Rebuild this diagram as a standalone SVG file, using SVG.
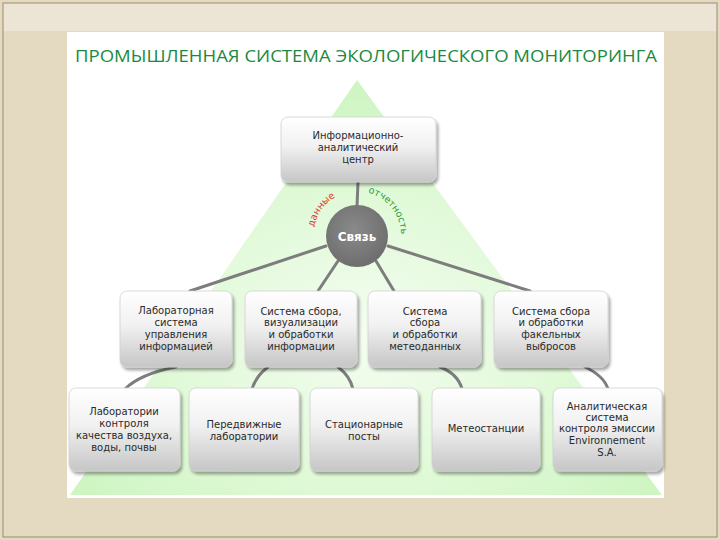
<svg xmlns="http://www.w3.org/2000/svg" width="720" height="540" viewBox="0 0 720 540">
<defs>
<linearGradient id="boxg" x1="0" y1="0" x2="0" y2="1">
<stop offset="0" stop-color="#ffffff"/>
<stop offset="0.45" stop-color="#f1f1f1"/>
<stop offset="1" stop-color="#c6c6c6"/>
</linearGradient>
<radialGradient id="trig" cx="0.5" cy="0.62" r="0.6">
<stop offset="0" stop-color="#f4fdf1"/>
<stop offset="0.6" stop-color="#dff9d6"/>
<stop offset="1" stop-color="#cff5c3"/>
</radialGradient>
<radialGradient id="circg" cx="0.45" cy="0.4" r="0.6">
<stop offset="0" stop-color="#8a8a8a"/>
<stop offset="1" stop-color="#6e6e6e"/>
</radialGradient>
<filter id="sh" x="-10%" y="-10%" width="125%" height="130%">
<feGaussianBlur in="SourceAlpha" stdDeviation="1.8"/>
<feOffset dx="2" dy="3" result="o"/>
<feComponentTransfer><feFuncA type="linear" slope="0.35"/></feComponentTransfer>
<feMerge><feMergeNode/><feMergeNode in="SourceGraphic"/></feMerge>
</filter>
<path id="arc" d="M313.2,232.2 A44,44 0 1 1 400.3,243.6" fill="none"/>
</defs>
<style>
.box{fill:url(#boxg);stroke:#d0d0d0;stroke-width:0.8;filter:url(#sh)}
.t{font-family:"DejaVu Sans","Liberation Sans",sans-serif;font-size:10px;fill:#2a2a2a;text-anchor:middle}
.ln{fill:none;stroke:#7d7d7d;stroke-width:3;stroke-linecap:round}
.arct{font-family:"DejaVu Sans","Liberation Sans",sans-serif;font-size:9.5px}
</style>
<!-- background -->
<rect x="0" y="0" width="720" height="540" fill="#e4d9c1"/>
<rect x="3" y="3" width="714" height="28" fill="#ece5d5"/>
<rect x="3" y="3" width="714" height="534" fill="none" stroke="#9a8c6c" stroke-width="1"/>
<rect x="67" y="32" width="597" height="466" fill="#ffffff"/>
<polygon points="357,80 662,495 70,495" fill="url(#trig)"/>
<text x="366" y="62" font-family="'Open Sans','Liberation Sans',sans-serif" font-size="17" fill="#1b8a40" text-anchor="middle" textLength="582" lengthAdjust="spacingAndGlyphs">ПРОМЫШЛЕННАЯ СИСТЕМА ЭКОЛОГИЧЕСКОГО МОНИТОРИНГА</text>
<!-- connectors -->
<g id="connectors">
<line class="ln" x1="358" y1="182" x2="357" y2="206"/>
<line class="ln" x1="326" y1="246" x2="190" y2="291"/>
<line class="ln" x1="338" y1="261" x2="318" y2="291"/>
<line class="ln" x1="376" y1="261" x2="394" y2="291"/>
<line class="ln" x1="388" y1="246" x2="530" y2="291"/>
<path class="ln" d="M176,367 Q140,374 125,389"/>
<path class="ln" d="M268,367 Q256,376 252,389"/>
<path class="ln" d="M338,367 Q350,376 353,389"/>
<path class="ln" d="M440,367 Q458,374 462,389"/>
<path class="ln" d="M585,367 Q604,376 608,389"/>
</g>
<!-- top node -->
<g id="n-center">
<rect class="box" x="281" y="117" width="155" height="65" rx="7"/>
<text class="t" x="358" y="139">Информационно-</text>
<text class="t" x="358" y="151">аналитический</text>
<text class="t" x="358" y="163">центр</text>
</g>
<g id="n-link">
<circle cx="357" cy="236" r="31" fill="url(#circg)"/>
<text x="357" y="241" font-family="'DejaVu Sans','Liberation Sans',sans-serif" font-size="12" font-weight="bold" fill="#ffffff" text-anchor="middle">Связь</text>
<text class="arct" fill="#d83a2a"><textPath href="#arc" startOffset="5">данные</textPath></text>
<text class="arct" fill="#2a9a3a"><textPath href="#arc" startOffset="77">отчетность</textPath></text>
</g>
<!-- middle row -->
<g id="n-m1">
<rect class="box" x="120" y="291" width="112" height="76" rx="7"/>
<text class="t" x="176" y="314">Лабораторная</text>
<text class="t" x="176" y="326">система</text>
<text class="t" x="176" y="338">управления</text>
<text class="t" x="176" y="350">информацией</text>
</g>
<g id="n-m2">
<rect class="box" x="245" y="291" width="112" height="76" rx="7"/>
<text class="t" x="301" y="315">Система сбора,</text>
<text class="t" x="301" y="326">визуализации</text>
<text class="t" x="301" y="338">и обработки</text>
<text class="t" x="301" y="350">информации</text>
</g>
<g id="n-m3">
<rect class="box" x="368" y="291" width="113" height="76" rx="7"/>
<text class="t" x="425" y="315">Система</text>
<text class="t" x="425" y="326">сбора</text>
<text class="t" x="425" y="338">и обработки</text>
<text class="t" x="425" y="350">метеоданных</text>
</g>
<g id="n-m4">
<rect class="box" x="494" y="291" width="114" height="76" rx="7"/>
<text class="t" x="551" y="315">Система сбора</text>
<text class="t" x="551" y="326">и обработки</text>
<text class="t" x="551" y="338">факельных</text>
<text class="t" x="551" y="350">выбросов</text>
</g>
<!-- bottom row -->
<g id="n-b1">
<rect class="box" x="69" y="388" width="111" height="83" rx="7"/>
<text class="t" x="124" y="415">Лаборатории</text>
<text class="t" x="124" y="427">контроля</text>
<text class="t" x="124" y="439">качества воздуха,</text>
<text class="t" x="124" y="451">воды, почвы</text>
</g>
<g id="n-b2">
<rect class="box" x="189" y="388" width="110" height="83" rx="7"/>
<text class="t" x="244" y="428">Передвижные</text>
<text class="t" x="244" y="440">лаборатории</text>
</g>
<g id="n-b3">
<rect class="box" x="310" y="388" width="108" height="83" rx="7"/>
<text class="t" x="364" y="428">Стационарные</text>
<text class="t" x="364" y="440">посты</text>
</g>
<g id="n-b4">
<rect class="box" x="432" y="388" width="108" height="83" rx="7"/>
<text class="t" x="486" y="432">Метеостанции</text>
</g>
<g id="n-b5">
<rect class="box" x="553" y="388" width="109" height="83" rx="7"/>
<text class="t" x="607" y="410">Аналитическая</text>
<text class="t" x="607" y="421">система</text>
<text class="t" x="607" y="432">контроля эмиссии</text>
<text class="t" x="607" y="444">Environnement</text>
<text class="t" x="607" y="456">S.A.</text>
</g>
</svg>
